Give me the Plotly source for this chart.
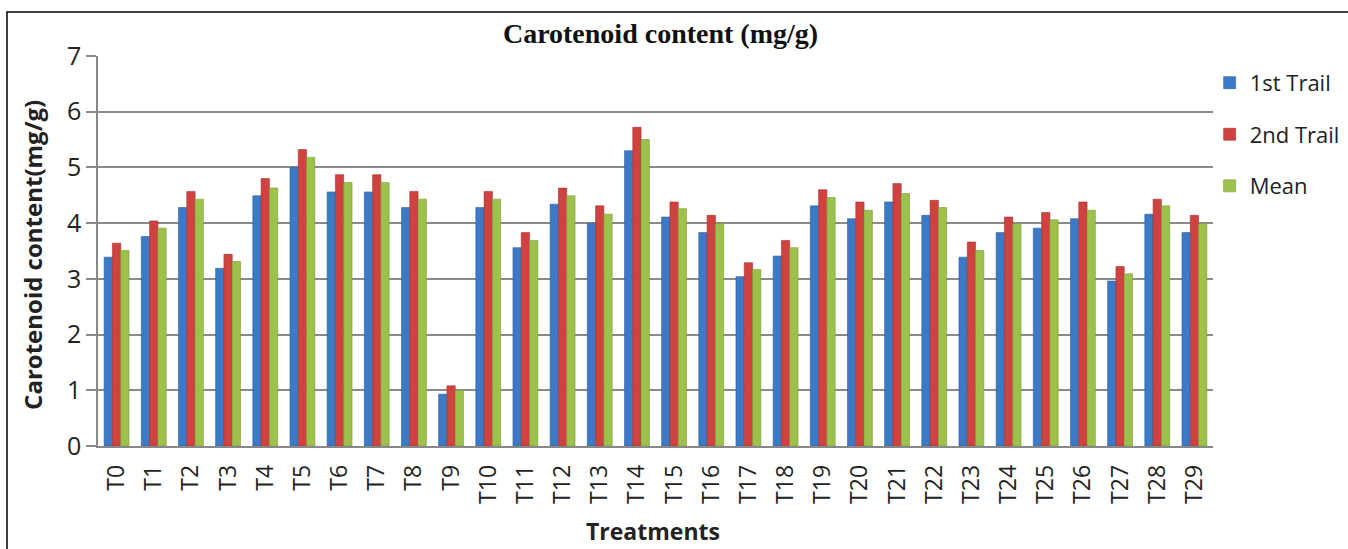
import plotly.graph_objects as go

categories = [f"T{i}" for i in range(30)]
trial1 = [3.39, 3.76, 4.28, 3.19, 4.49, 5.00, 4.56, 4.56, 4.28, 0.93,
          4.28, 3.56, 4.34, 4.00, 5.30, 4.11, 3.83, 3.04, 3.41, 4.31,
          4.08, 4.38, 4.14, 3.39, 3.83, 3.91, 4.08, 2.96, 4.16, 3.83]
trial2 = [3.64, 4.04, 4.57, 3.44, 4.80, 5.32, 4.87, 4.87, 4.57, 1.08,
          4.57, 3.83, 4.63, 4.31, 5.72, 4.38, 4.14, 3.29, 3.69, 4.60,
          4.38, 4.71, 4.41, 3.66, 4.11, 4.19, 4.38, 3.22, 4.43, 4.14]
mean = [3.51, 3.91, 4.43, 3.31, 4.63, 5.18, 4.73, 4.73, 4.43, 1.00,
        4.43, 3.69, 4.49, 4.16, 5.50, 4.26, 3.99, 3.17, 3.56, 4.46,
        4.23, 4.53, 4.28, 3.51, 3.99, 4.06, 4.23, 3.09, 4.31, 3.99]
series_names = ["1st Trail", "2nd Trail", "Mean"]
y_ticks = [0, 1, 2, 3, 4, 5, 6, 7]

colors = ["#3C7AC8", "#CF423F", "#9CC24B"]
borders = ["#2F5E9A", "#A33330", "#7A9A3A"]

fig = go.Figure()
for i, (name, vals) in enumerate(zip(series_names, [trial1, trial2, mean])):
    fig.add_trace(go.Bar(
        x=categories, y=vals, name=name, legendgroup=name,
        marker=dict(color=colors[i], line=dict(color=borders[i], width=0.6)),
    ))

sans = "Open Sans"
fig.update_layout(
    barmode="group", bargap=0.33, bargroupgap=0.0,
    width=1348, height=549,
    margin=dict(l=98, r=135, t=56, b=103, autoexpand=False),
    paper_bgcolor="white", plot_bgcolor="white",
    font=dict(family=sans, color="#222222"),
    title=dict(text="<b>Carotenoid content (mg/g)</b>", x=0.49, xanchor="center",
               y=1 - 33 / 549, yanchor="middle",
               font=dict(family="Liberation Serif", size=28, color="#111111")),
    showlegend=True,
    legend=dict(x=0.997, xanchor="left", y=0.985, yanchor="top",
                font=dict(family=sans, size=22, color="#222222"),
                tracegroupgap=20, itemwidth=30, bgcolor="rgba(0,0,0,0)"),
    xaxis=dict(tickangle=-90, tickfont=dict(family=sans, size=23, color="#222222"),
               showline=True, linecolor="#888888", linewidth=1.5,
               ticks="", showgrid=False, range=[-0.5, 29.5], ticklabelstandoff=8),
    yaxis=dict(range=[0, 7], tickvals=y_ticks, showgrid=True, gridcolor="#8a8a8a",
               gridwidth=1.5, showline=True, linecolor="#888888", linewidth=1.5,
               ticks="outside", ticklen=10, tickcolor="#8a8a8a", tickwidth=1.5,
               tickfont=dict(family=sans, size=25, color="#222222"), zeroline=False),
    annotations=[
        dict(text="<b>Carotenoid content(mg/g)</b>", xref="paper", yref="paper",
             x=(33 - 98) / 1115, y=0.49, textangle=-90, showarrow=False,
             xanchor="center", yanchor="middle",
             font=dict(family=sans, size=24, color="#222222")),
        dict(text="<b>Treatments</b>", xref="paper", yref="paper",
             x=(653 - 98) / 1115, y=(446 - 531) / 390, showarrow=False,
             xanchor="center", yanchor="middle",
             font=dict(family=sans, size=23, color="#222222")),
    ],
    shapes=[dict(type="rect", xref="paper", yref="paper",
                 x0=(7 - 98) / 1115, x1=1.3, y0=-0.5, y1=(446 - 12) / 390,
                 line=dict(color="black", width=1.5), fillcolor="rgba(0,0,0,0)",
                 layer="below")],
)

fig.write_html("out.html")
